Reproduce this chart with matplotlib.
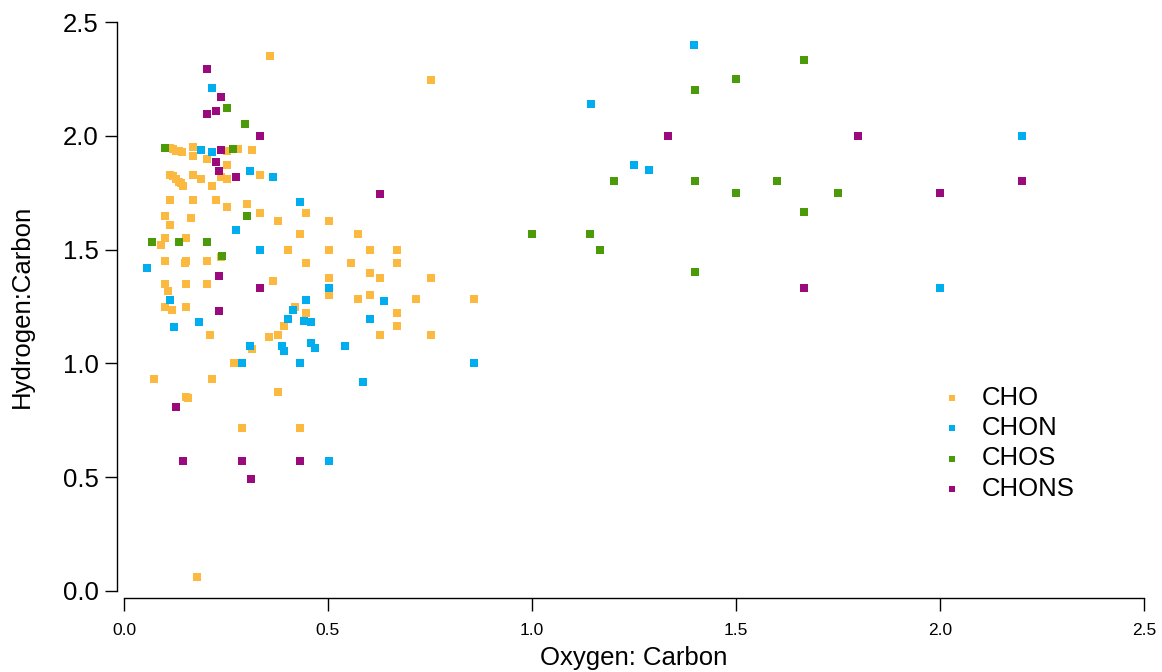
import matplotlib
matplotlib.use("Agg")
import matplotlib.pyplot as plt

plt.rcParams['font.family'] = ['Liberation Sans', 'DejaVu Sans']

cho_x = [0.359, 0.752, 0.113, 0.12, 0.127, 0.134, 0.141, 0.169, 0.169, 0.252, 0.28, 0.314, 0.203, 0.252, 0.334,
         0.113, 0.119, 0.127, 0.135, 0.139, 0.145, 0.169, 0.189, 0.216, 0.238, 0.252,
         0.113, 0.169, 0.225, 0.252, 0.301, 0.101, 0.163, 0.334, 0.447, 0.377, 0.502,
         0.113, 0.431, 0.574, 0.101, 0.152, 0.091, 0.403, 0.502, 0.603, 0.668, 0.238,
         0.101, 0.152, 0.15, 0.203, 0.447, 0.556, 0.668, 0.603, 0.365, 0.502, 0.627, 0.752,
         0.101, 0.152, 0.203, 0.108, 0.502, 0.574, 0.603, 0.716, 0.858,
         0.101, 0.118, 0.152, 0.418, 0.447, 0.668, 0.391, 0.668, 0.211, 0.355, 0.377, 0.627, 0.752,
         0.314, 0.269, 0.073, 0.216, 0.377, 0.152, 0.157, 0.288, 0.431, 0.178]
cho_y = [2.352, 2.247, 1.945, 1.94, 1.935, 1.932, 1.929, 1.95, 1.91, 1.934, 1.943, 1.936, 1.896, 1.871, 1.829,
         1.829, 1.822, 1.809, 1.797, 1.793, 1.781, 1.829, 1.808, 1.781, 1.82, 1.808,
         1.718, 1.718, 1.718, 1.687, 1.699, 1.648, 1.64, 1.662, 1.662, 1.627, 1.627,
         1.608, 1.569, 1.569, 1.55, 1.55, 1.522, 1.497, 1.497, 1.497, 1.497, 1.469,
         1.45, 1.45, 1.443, 1.45, 1.442, 1.442, 1.442, 1.399, 1.364, 1.374, 1.374, 1.374,
         1.348, 1.348, 1.348, 1.317, 1.3, 1.285, 1.3, 1.285, 1.285,
         1.249, 1.234, 1.249, 1.25, 1.222, 1.222, 1.165, 1.165, 1.123, 1.118, 1.123, 1.123, 1.123,
         1.063, 1.0, 0.93, 0.93, 0.874, 0.852, 0.85, 0.716, 0.716, 0.061]

chon_x = [0.216, 0.189, 0.216, 0.31, 0.365, 0.431, 0.275, 0.334, 0.056, 0.502, 0.113, 0.447, 0.637, 0.413,
          0.123, 0.185, 0.403, 0.44, 0.458, 0.603, 0.31, 0.387, 0.391, 0.458, 0.469, 0.542, 0.288, 0.431,
          0.585, 0.502, 0.858, 1.145, 1.25, 1.287, 1.397, 2.0, 2.2]
chon_y = [2.212, 1.936, 1.927, 1.845, 1.817, 1.711, 1.588, 1.497, 1.418, 1.332, 1.278, 1.278, 1.273, 1.234,
          1.159, 1.183, 1.197, 1.186, 1.183, 1.197, 1.075, 1.075, 1.056, 1.091, 1.067, 1.075, 1.0, 1.0,
          0.917, 0.57, 1.0, 2.14, 1.873, 1.851, 2.4, 1.333, 2.0]

chos_x = [0.252, 0.297, 0.101, 0.266, 0.301, 0.069, 0.136, 0.203, 0.24,
          1.0, 1.142, 1.167, 1.2, 1.4, 1.4, 1.4, 1.5, 1.5, 1.6, 1.667, 1.667, 1.75]
chos_y = [2.12, 2.053, 1.946, 1.943, 1.648, 1.532, 1.532, 1.532, 1.474,
          1.57, 1.57, 1.5, 1.8, 2.2, 1.8, 1.4, 2.25, 1.75, 1.8, 2.333, 1.667, 1.75]

chons_x = [0.203, 0.238, 0.203, 0.225, 0.334, 0.238, 0.225, 0.233, 0.275, 0.627, 0.233, 0.334, 0.233,
           0.127, 0.145, 0.288, 0.431, 0.312, 1.333, 1.667, 1.8, 2.0, 2.2]
chons_y = [2.294, 2.171, 2.096, 2.108, 1.997, 1.939, 1.887, 1.844, 1.817, 1.746, 1.383, 1.332, 1.229,
           0.81, 0.57, 0.57, 0.57, 0.491, 2.0, 1.333, 2.0, 1.75, 1.8]

series = [
    ("CHO", cho_x, cho_y, "#FBBA3F"),
    ("CHON", chon_x, chon_y, "#00ADEF"),
    ("CHOS", chos_x, chos_y, "#4B9A0A"),
    ("CHONS", chons_x, chons_y, "#9B0A7D"),
]

x_ticks = [0.0, 0.5, 1.0, 1.5, 2.0, 2.5]
y_ticks = [0.0, 0.5, 1.0, 1.5, 2.0, 2.5]

fig = plt.figure(figsize=(11.62, 6.72), dpi=100)
ax = fig.add_axes([124/1162, 1-591/672, (1144-124)/1162, (591-22)/672])

for name, xs, ys, col in series:
    ax.scatter(xs, ys, s=27, marker='s', color=col, linewidths=0, label=name)

ax.set_xlim(0, 2.5)
ax.set_ylim(0, 2.5)
ax.set_xticks(x_ticks)
ax.set_xticklabels([f"{v:.1f}" for v in x_ticks])
ax.set_yticks(y_ticks)
ax.set_yticklabels([f"{v:.1f}" for v in y_ticks])

for s in ['top', 'right']:
    ax.spines[s].set_visible(False)
ax.spines['left'].set_position(('outward', 5))
ax.spines['bottom'].set_position(('outward', 5))
for s in ['left', 'bottom']:
    ax.spines[s].set_linewidth(1.0)
    ax.spines[s].set_color('black')

ax.tick_params(axis='y', direction='out', length=9, width=1, labelsize=18.5, pad=4)
ax.tick_params(axis='x', direction='out', length=9, width=1, labelsize=12.5, pad=9)

ax.set_xlabel("Oxygen: Carbon", fontsize=18.5, labelpad=6)
ax.set_ylabel("Hydrogen:Carbon", fontsize=18.5, labelpad=21)

ax.legend(loc='upper left', bbox_to_anchor=(0.799, 0.361), frameon=False, fontsize=18.5,
          handlelength=1.0, handletextpad=0.67, labelspacing=0.25, borderpad=0,
          markerscale=0.9, borderaxespad=0)

fig.savefig("out.png", dpi=100)
